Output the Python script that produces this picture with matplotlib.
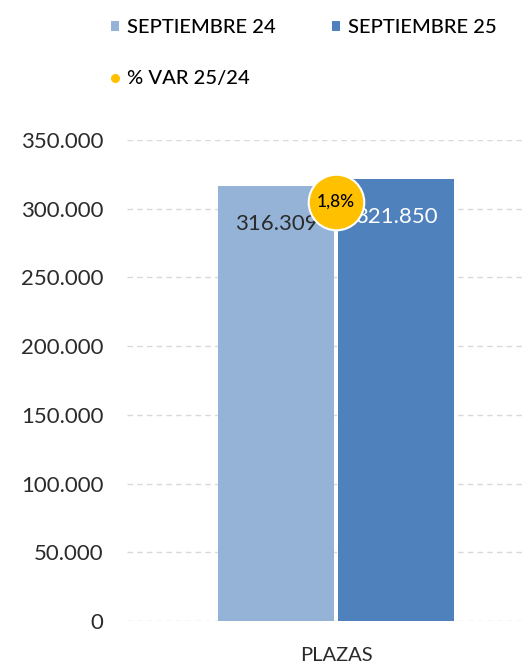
import matplotlib
matplotlib.use("Agg")
import matplotlib.pyplot as plt
from matplotlib.lines import Line2D
from matplotlib.patches import Patch

categories = ["PLAZAS"]
series_names = ["SEPTIEMBRE 24", "SEPTIEMBRE 25", "% VAR 25/24"]
sep24 = [316309]
sep25 = [321850]
var_pct = ["1,8%"]
yticks = [0, 50000, 100000, 150000, 200000, 250000, 300000, 350000]
ytick_labels = ["0", "50.000", "100.000", "150.000", "200.000", "250.000", "300.000", "350.000"]

c24 = "#95B3D7"
c25 = "#4F81BD"
cvar = "#FFC000"
txt = "#2b2b2b"

plt.rcParams['font.family'] = ['Lato', 'DejaVu Sans']

fig = plt.figure(figsize=(5.25, 6.67), dpi=100)
ax = fig.add_axes([127/525, 46/667, 418/525, 481/667])

w = 0.555
off = 0.287
x0 = 0
ax.bar([x0 - off], sep24, width=w, color=c24, zorder=3)
ax.bar([x0 + off], sep25, width=w, color=c25, zorder=3)

ax.set_xlim(-1, 1)
ax.set_ylim(0, 350000)
ax.set_yticks(yticks)
ax.set_yticklabels(ytick_labels, fontsize=16, color=txt)
ax.tick_params(axis='y', length=0, pad=17)
ax.set_xticks([x0])
ax.set_xticklabels(categories, fontsize=14.5, color=txt)
ax.tick_params(axis='x', length=0, pad=19)
for s in ax.spines.values():
    s.set_visible(False)
ax.yaxis.grid(True, color='#D9D9D9', linestyle=(0, (4, 3)), linewidth=1, zorder=0)

def fmt(v):
    return f"{v:,}".replace(",", ".")

ax.text(x0 - off, sep24[0] - 27600, fmt(sep24[0]), ha='center', va='center',
        fontsize=16, color=txt, zorder=4)
ax.text(x0 + off, sep25[0] - 27600, fmt(sep25[0]), ha='center', va='center',
        fontsize=16, color='white', zorder=4)

vy = 305000
ax.plot([x0], [vy], marker='o', markersize=40, color=cvar, markeredgecolor='white',
        markeredgewidth=1.5, zorder=5, clip_on=False)
ax.text(x0, vy, var_pct[0], ha='center', va='center', fontsize=12.5,
        fontweight='medium', color='black', zorder=6)

h24 = Patch(facecolor=c24)
h25 = Patch(facecolor=c25)
hvar = Line2D([], [], marker='o', linestyle='none', color=cvar, markersize=5.5)
leg = fig.legend([h24, hvar, h25], [series_names[0], series_names[2], series_names[1]],
                 loc='upper left', bbox_to_anchor=(93/525, 1 - 1/667), ncol=2,
                 frameon=False, fontsize=14.5, handlelength=0.4, handleheight=0.4,
                 handletextpad=0.4, columnspacing=2.8, labelspacing=1.7)
for t in leg.get_texts():
    t.set_fontweight('medium')

fig.savefig("out.png", dpi=100)
